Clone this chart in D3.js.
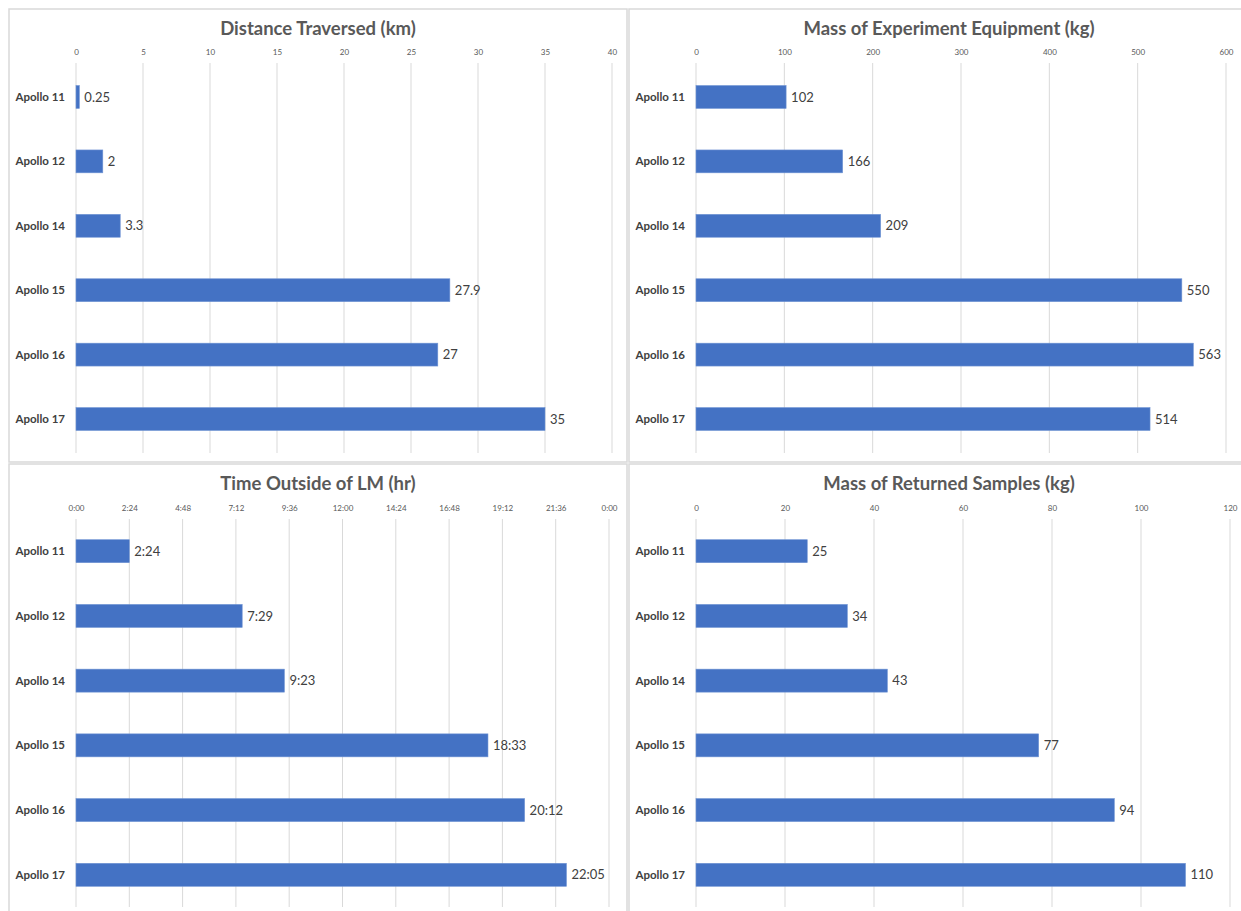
<!DOCTYPE html>
<html lang="en">
<head>
<meta charset="UTF-8">
<title>Apollo Surface Missions</title>
<script src="https://d3js.org/d3.v7.min.js"></script>
<style>
  body { margin: 0; background: #fff; overflow: hidden; }
  svg { display: block; }
</style>
</head>
<body>
<svg id="chart" width="1241" height="911"></svg>
<script>
// data
const missions = ["Apollo 11", "Apollo 12", "Apollo 14", "Apollo 15", "Apollo 16", "Apollo 17"];

const distanceKm = [0.25, 2, 3.3, 27.9, 27, 35];
const distanceTicks = [0, 5, 10, 15, 20, 25, 30, 35, 40];

const equipmentKg = [102, 166, 209, 550, 563, 514];
const equipmentTicks = [0, 100, 200, 300, 400, 500, 600];

const timeOutside = ["2:24", "7:29", "9:23", "18:33", "20:12", "22:05"];
const timeTickLabels = ["0:00", "2:24", "4:48", "7:12", "9:36", "12:00", "14:24", "16:48", "19:12", "21:36", "0:00"];

const samplesKg = [25, 34, 43, 77, 94, 110];
const samplesTicks = [0, 20, 40, 60, 80, 100, 120];

// "h:mm" -> hours
const toHours = s => { const [h, m] = s.split(":").map(Number); return h + m / 60; };

const svg = d3.select("#chart");
const barColor = "#4472C4";
const gridColor = "#d9d9d9";
const textColor = "#595959";
const font = "Lato, 'Noto Sans', sans-serif";

function drawPanel(p) {
    const g = svg.append("g").attr("transform", `translate(${p.x},${p.y})`);

    // frame
    g.append("rect")
        .attr("x", 0).attr("y", 0)
        .attr("width", p.w).attr("height", p.h)
        .attr("fill", "none")
        .attr("stroke", gridColor)
        .attr("stroke-width", 1.5);

    g.append("text")
        .attr("x", p.w / 2).attr("y", 26)
        .attr("text-anchor", "middle")
        .attr("font-family", font)
        .attr("font-weight", "bold")
        .attr("font-size", "18.5px")
        .attr("fill", textColor)
        .text(p.title);

    const x = d3.scaleLinear().domain(p.domain).range([67, 67 + p.plotW]);
    const y = d3.scaleBand().domain(missions).range([p.gridTop, p.gridBottom])
        .paddingInner(0.645).paddingOuter(p.outer);

    // gridlines
    g.selectAll(".grid")
        .data(p.ticks)
        .enter().append("line")
        .attr("x1", d => x(d)).attr("x2", d => x(d))
        .attr("y1", p.gridTop).attr("y2", p.gridBottom)
        .attr("stroke", gridColor)
        .attr("stroke-width", 1);

    // top axis labels
    const axis = d3.axisTop(x).tickValues(p.ticks).tickSize(0).tickPadding(0)
        .tickFormat((d, i) => p.tickFormat ? p.tickFormat(d, i) : d);
    const ax = g.append("g").attr("transform", `translate(0,${p.gridTop - 8})`).call(axis);
    ax.select(".domain").remove();
    ax.selectAll("text")
        .attr("font-family", font)
        .attr("font-size", "8px")
        .attr("fill", textColor);

    // category labels
    g.selectAll(".cat")
        .data(missions)
        .enter().append("text")
        .attr("x", 56)
        .attr("y", d => y(d) + y.bandwidth() / 2)
        .attr("dy", "0.35em")
        .attr("text-anchor", "end")
        .attr("font-family", font)
        .attr("font-weight", "bold")
        .attr("font-size", "11.5px")
        .attr("fill", "#404040")
        .text(d => d);

    const rows = missions.map((m, i) => ({ m, v: p.values[i], label: p.labels[i] }));

    g.selectAll(".bar")
        .data(rows)
        .enter().append("rect")
        .attr("x", x(0))
        .attr("y", d => y(d.m))
        .attr("width", d => x(d.v) - x(0))
        .attr("height", y.bandwidth())
        .attr("fill", barColor)
        .attr("stroke", "#6f93d3")
        .attr("stroke-width", 0.6);

    g.selectAll(".val")
        .data(rows)
        .enter().append("text")
        .attr("x", d => x(d.v) + 5)
        .attr("y", d => y(d.m) + y.bandwidth() / 2)
        .attr("dy", "0.36em")
        .attr("font-family", font)
        .attr("font-size", "13px")
        .attr("fill", "#404040")
        .text(d => d.label);
}

drawPanel({
    x: 9, y: 9, w: 618, h: 453,
    title: "Distance Traversed (km)",
    domain: [0, 40], plotW: 536, ticks: distanceTicks,
    gridTop: 54, gridBottom: 444, outer: 0.35,
    values: distanceKm, labels: distanceKm.map(String)
});

drawPanel({
    x: 629, y: 9, w: 640, h: 453,
    title: "Mass of Experiment Equipment (kg)",
    domain: [0, 600], plotW: 530, ticks: equipmentTicks,
    gridTop: 54, gridBottom: 444, outer: 0.35,
    values: equipmentKg, labels: equipmentKg.map(String)
});

drawPanel({
    x: 9, y: 464, w: 618, h: 470,
    title: "Time Outside of LM (hr)",
    domain: [0, 24], plotW: 533, ticks: d3.range(0, 24.01, 2.4),
    tickFormat: (d, i) => timeTickLabels[i],
    gridTop: 55, gridBottom: 443, outer: 0.32,
    values: timeOutside.map(toHours), labels: timeOutside
});

drawPanel({
    x: 629, y: 464, w: 640, h: 470,
    title: "Mass of Returned Samples (kg)",
    domain: [0, 120], plotW: 534, ticks: samplesTicks,
    gridTop: 55, gridBottom: 443, outer: 0.32,
    values: samplesKg, labels: samplesKg.map(String)
});
</script>
</body>
</html>
